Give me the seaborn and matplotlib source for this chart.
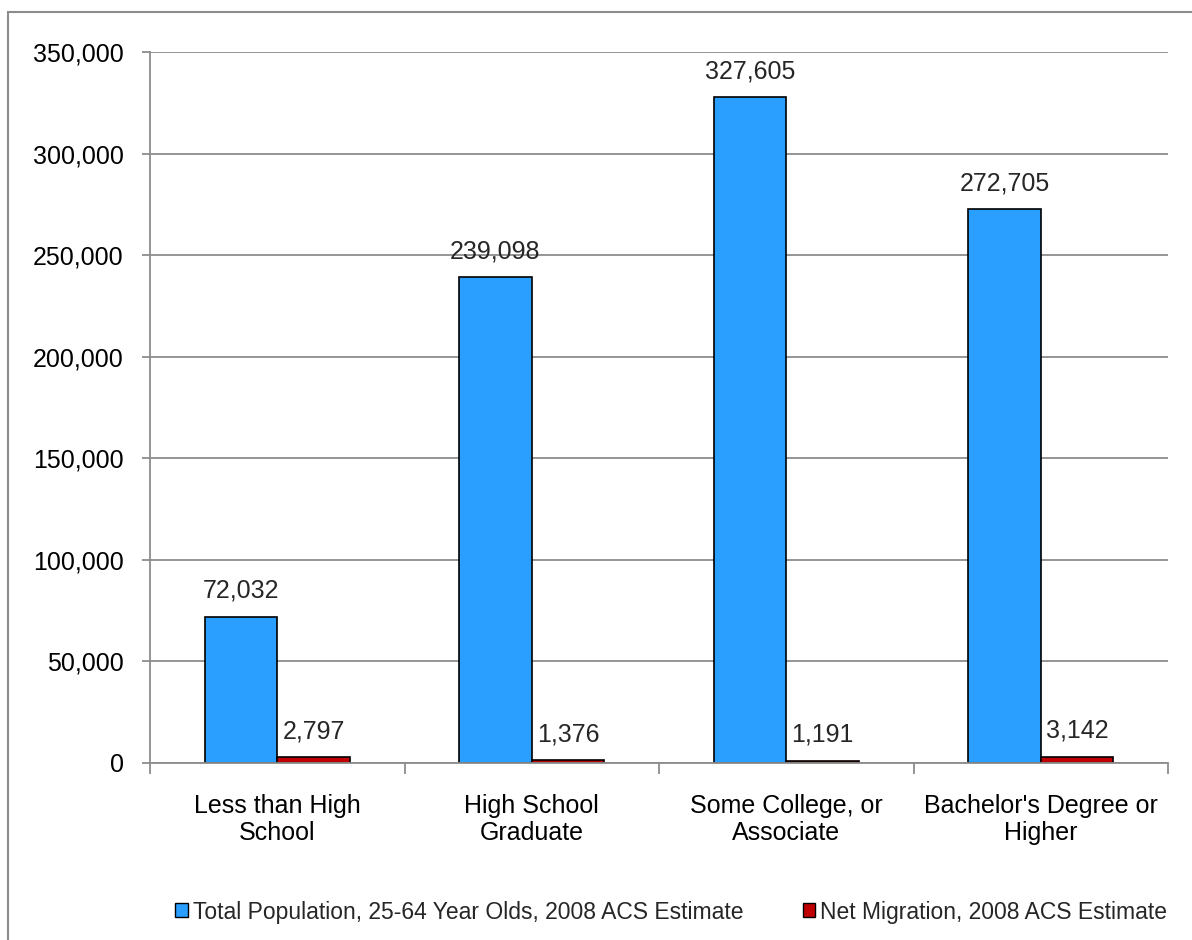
import matplotlib
matplotlib.use("Agg")
import matplotlib.pyplot as plt
import seaborn as sns
import pandas as pd
from matplotlib.patches import Rectangle, Patch
from matplotlib.ticker import FuncFormatter, FixedLocator

categories = ["Less than High\nSchool", "High School\nGraduate",
              "Some College, or\nAssociate", "Bachelor's Degree or\nHigher"]
series_names = ["Total Population, 25-64 Year Olds, 2008 ACS Estimate",
                "Net Migration, 2008 ACS Estimate"]
total_pop = [72032, 239098, 327605, 272705]
net_migration = [2797, 1376, 1191, 3142]
colors = ["#2A9FFF", "#C00000"]

df = pd.DataFrame({
    "category": categories * 2,
    "series": [series_names[0]] * 4 + [series_names[1]] * 4,
    "value": total_pop + net_migration,
})

sns.set_theme(style="white")
plt.rcParams["font.family"] = ["Liberation Sans", "DejaVu Sans"]

fig = plt.figure(figsize=(11.92, 9.4), dpi=100)
ax = fig.add_axes([150/1192, 1 - 763/940, (1168-150)/1192, (763-52)/940])

sns.barplot(data=df, x="category", y="value", hue="series", order=categories,
            hue_order=series_names, palette=colors, width=0.57, gap=0,
            edgecolor="black", linewidth=1.2, saturation=1, ax=ax, legend=False,
            errorbar=None)

ax.set_ylim(0, 350000)
ax.set_xlim(-0.5, 3.5)
ax.yaxis.set_major_locator(FixedLocator(range(0, 350001, 50000)))
ax.yaxis.set_major_formatter(FuncFormatter(lambda v, p: f"{int(v):,}"))
ax.grid(axis="y", color="#8C8C8C", linewidth=1.3)
ax.set_axisbelow(True)
ax.set_xlabel("")
ax.set_ylabel("")
for s in ["top", "right"]:
    ax.spines[s].set_visible(False)
for s in ["left", "bottom"]:
    ax.spines[s].set_color("#8C8C8C")
    ax.spines[s].set_linewidth(1.3)

ax.tick_params(axis="y", which="major", length=6, width=1.3, color="#8C8C8C",
               direction="out", left=True, labelsize=18, pad=13, labelcolor="black")
ax.tick_params(axis="x", which="major", length=0, labelsize=18, pad=22, labelcolor="black")
ax.set_xticks(range(4))
ax.set_xticklabels(categories)
ax.xaxis.set_minor_locator(FixedLocator([-0.5, 0.5, 1.5, 2.5, 3.5]))
ax.tick_params(axis="x", which="minor", length=8, width=1.3, color="#8C8C8C",
               direction="out", bottom=True)

for container in ax.containers:
    ax.bar_label(container, labels=[f"{int(v):,}" for v in container.datavalues],
                 padding=10, fontsize=18)

# outer chart frame
fig.patches.append(Rectangle((8/1192, -0.1), 1.2, 1 - 12/940 + 0.1,
                             transform=fig.transFigure, fill=False,
                             edgecolor="#8C8C8C", linewidth=1.5, clip_on=False))

handles = [Patch(facecolor=c, edgecolor="black", linewidth=1.0) for c in colors]
fig.legend(handles, series_names, loc="center", bbox_to_anchor=(0.563, 1 - 912/940),
           ncol=2, frameon=False, fontsize=16.5, handlelength=0.55, handleheight=0.55,
           handletextpad=0.2, columnspacing=2.6)

fig.savefig("out.png", dpi=100)
